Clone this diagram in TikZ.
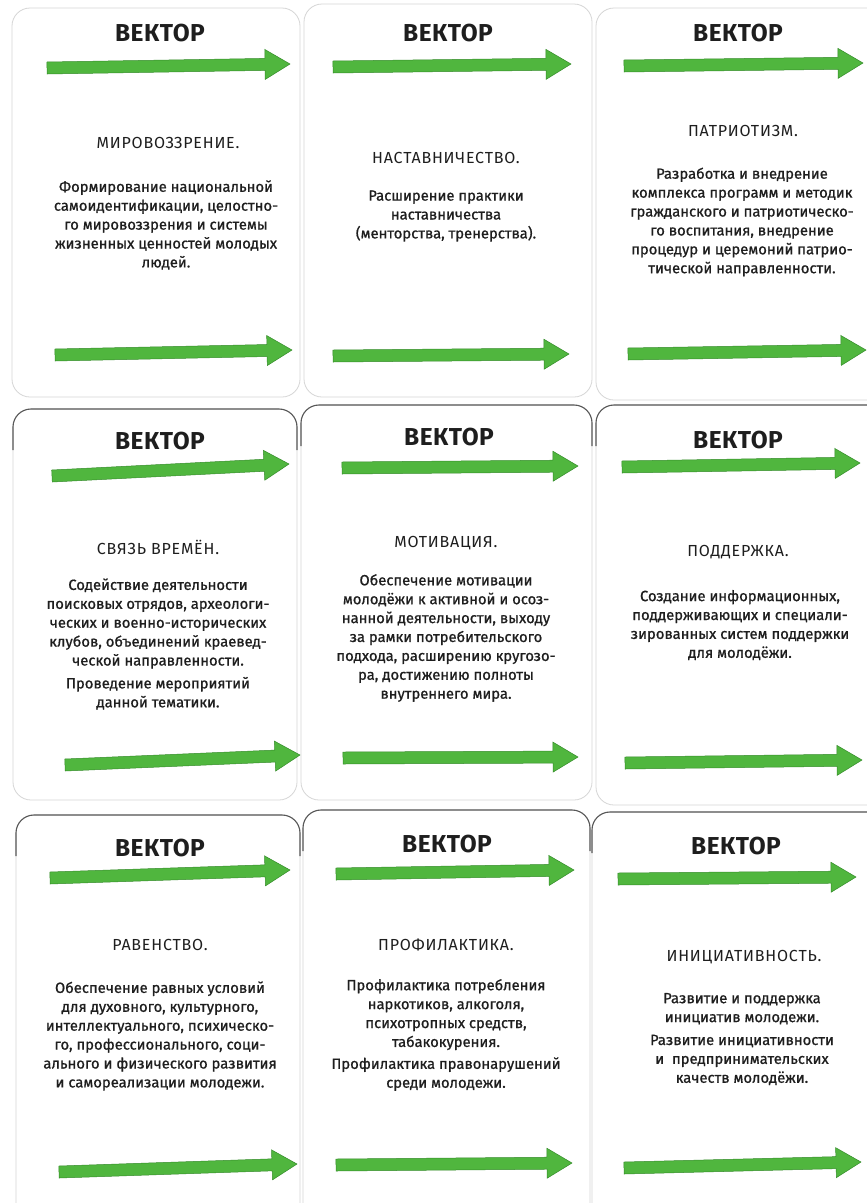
\documentclass[tikz,border=0pt]{standalone}
\usepackage{fontspec}
\setmainfont{Fira Sans}
\newfontfamily\titlef{Fira Sans}[LetterSpace=2]
\newfontfamily\headf{Fira Sans}[LetterSpace=5]
\newfontfamily\bodyf{Fira Sans}[FakeBold=0.9]
\definecolor{agreen}{RGB}{80,182,62}
\definecolor{agreendark}{RGB}{52,140,42}
\definecolor{ink}{RGB}{30,30,30}
\tikzset{
  card/.style={draw=black!16, line width=0.8pt, fill=white, rounded corners=18pt},
  topedge/.style={draw=black!65, line width=1.1pt, rounded corners=18pt},
  arrowstyle/.style={fill=agreen, draw=agreendark, line width=0.5pt, line join=miter},
  titletext/.style={font=\titlef\bfseries\fontsize{24.5}{26}\selectfont, text=ink, inner sep=0pt},
  headtext/.style={font=\headf\fontsize{16}{18}\selectfont, text=ink, inner sep=0pt},
  bodytext/.style={font=\bodyf\fontsize{14.8}{18.9}\selectfont, text=ink, align=center, inner sep=0pt},
}
\newcommand\garrow[4]{%
  \pgfmathsetmacro\gdx{#3-#1}\pgfmathsetmacro\gdy{#2-#4}%
  \pgfmathsetmacro\gang{atan2(\gdy,\gdx)}\pgfmathsetmacro\glen{veclen(\gdx,\gdy)}%
  \begin{scope}[shift={(#1,#2)},rotate=\gang]
    \filldraw[arrowstyle] (0,-6) -- (\glen-25,-6) -- (\glen-25,-15) -- (\glen,0)
      -- (\glen-25,15) -- (\glen-25,6) -- (0,6) -- cycle;
  \end{scope}}
\begin{document}
\begin{tikzpicture}[x=1pt,y=-1pt]
\useasboundingbox (0,0) rectangle (867,1203);
\fill[white] (0,0) rectangle (867,1203);
\clip (0,0) rectangle (867,1203);
% cards
\draw[card] (12,8) rectangle (300,397);
\draw[card] (304,4) rectangle (592,397);
\draw[card] (596,8) rectangle (885,400);
\draw[card] (13,409) rectangle (297,800);
\draw[card] (301,405) rectangle (592,800);
\draw[card] (596,405) rectangle (885,805);
\draw[card] (16,815) rectangle (300,1225);
\draw[card] (303,810) rectangle (590,1225);
\draw[card] (592,812) rectangle (885,1225);
\draw[topedge] (13,450) -- (13,409) -- (297,409) -- (297,450);
\draw[topedge] (301,446) -- (301,405) -- (592,405) -- (592,446);
\draw[topedge] (596,446) -- (596,405) -- (885,405) -- (885,446);
\draw[topedge] (16,856) -- (16,815) -- (300,815) -- (300,856);
\draw[topedge] (303,851) -- (303,810) -- (590,810) -- (590,851);
\draw[topedge] (592,853) -- (592,812) -- (885,812) -- (885,853);
% titles
\node[titletext] (t1) at (160,33) {ВЕКТОР};
\node[titletext] (t2) at (448,33) {ВЕКТОР};
\node[titletext] (t3) at (738,33) {ВЕКТОР};
\node[titletext] (t4) at (160,441) {ВЕКТОР};
\node[titletext] (t5) at (449,437) {ВЕКТОР};
\node[titletext] (t6) at (738,440) {ВЕКТОР};
\node[titletext] (t7) at (160,848) {ВЕКТОР};
\node[titletext] (t8) at (447,844) {ВЕКТОР};
\node[titletext] (t9) at (736,846) {ВЕКТОР};
% arrows
\garrow{47}{68}{290}{64}
\garrow{333}{67}{571}{64}
\garrow{624}{66}{863}{63}
\garrow{55}{355}{292}{350}
\garrow{333}{356}{569}{354}
\garrow{628}{354}{866}{350}
\garrow{52}{476}{289}{464}
\garrow{342}{468}{578}{466}
\garrow{622}{467}{860}{463}
\garrow{65}{765}{300}{755}
\garrow{343}{758}{578}{757}
\garrow{625}{763}{862}{760}
\garrow{50}{878}{290}{870}
\garrow{336}{874}{574}{870}
\garrow{618}{879}{856}{877}
\garrow{59}{1172}{297}{1164}
\garrow{336}{1165}{572}{1163}
\garrow{624}{1168}{861}{1162}
% headings
\node[headtext] (h1) at (168,143) {МИРОВОЗЗРЕНИЕ.};
\node[headtext] (h2) at (446,158) {НАСТАВНИЧЕСТВО.};
\node[headtext] (h3) at (743,131) {ПАТРИОТИЗМ.};
\node[headtext] (h4) at (158,547) {СВЯЗЬ ВРЕМЁН.};
\node[headtext] (h5) at (446,543) {МОТИВАЦИЯ.};
\node[headtext] (h6) at (738,552) {ПОДДЕРЖКА.};
\node[headtext] (h7) at (160,945) {РАВЕНСТВО.};
\node[headtext] (h8) at (446,945) {ПРОФИЛАКТИКА.};
\node[headtext] (h9) at (744,957) {ИНИЦИАТИВНОСТЬ.};
% bodies
\node[bodytext] (b1) at (166,225) {Формирование национальной\\самоидентификации, целостно-\\го мировоззрения и системы\\жизненных ценностей молодых\\людей.};
\node[bodytext] (b2) at (446,216) {Расширение практики\\наставничества\\(менторства, тренерства).};
\node[bodytext] (b3) at (742,222) {Разработка и внедрение\\комплекса программ и методик\\гражданского и патриотическо-\\го воспитания, внедрение\\процедур и церемоний патрио-\\тической направленности.};
\node[bodytext] (b4) at (158,644) {Содействие деятельности\\поисковых отрядов, археологи-\\ческих и военно-исторических\\клубов, объединений краевед-\\ческой направленности.\\[4pt]Проведение мероприятий\\данной тематики.};
\node[bodytext] (b5) at (446,638) {Обеспечение мотивации\\молодёжи к активной и осоз-\\нанной деятельности, выходу\\за рамки потребительского\\подхода, расширению кругозо-\\ра, достижению полноты\\внутреннего мира.};
\node[bodytext] (b6) at (740,625) {Создание информационных,\\поддерживающих и специали-\\зированных систем поддержки\\для молодёжи.};
\node[bodytext] (b7) at (160,1036) {Обеспечение равных условий\\для духовного, культурного,\\интеллектуального, психическо-\\го, профессионального, соци-\\ального и физического развития\\и самореализации молодежи.};
\node[bodytext] (b8) at (446,1035) {Профилактика потребления\\наркотиков, алкоголя,\\психотропных средств,\\табакокурения.\\[3pt]Профилактика правонарушений\\среди молодежи.};
\node[bodytext] (b9) at (742,1039) {Развитие и поддержка\\инициатив молодежи.\\[4pt]Развитие инициативности\\и~ предпринимательских\\качеств молодёжи.};
\end{tikzpicture}
\end{document}
